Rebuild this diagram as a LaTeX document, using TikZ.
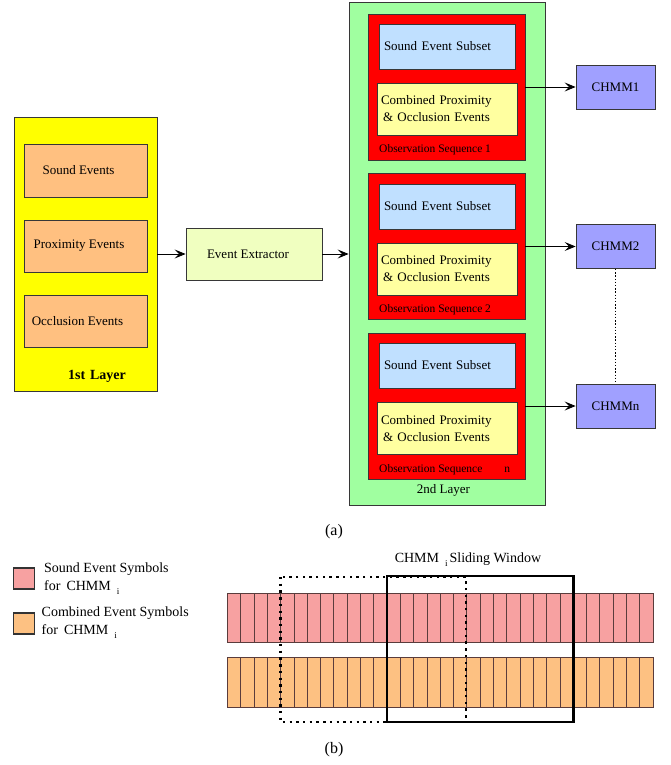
\documentclass[tikz,border=0pt]{standalone}
\usepackage{fontspec}
\setmainfont{Liberation Serif}
\usetikzlibrary{arrows.meta}
\definecolor{layeryellow}{RGB}{255,255,0}
\definecolor{peach}{RGB}{255,192,128}
\definecolor{eebg}{RGB}{240,255,192}
\definecolor{lgreen}{RGB}{160,255,160}
\definecolor{redbox}{RGB}{255,0,0}
\definecolor{lblue}{RGB}{192,224,255}
\definecolor{lyellow}{RGB}{255,255,160}
\definecolor{lav}{RGB}{160,160,255}
\definecolor{pinkbar}{RGB}{247,161,161}
\definecolor{orangebar}{RGB}{253,193,130}
\definecolor{edge}{RGB}{55,55,55}
\definecolor{celledge}{RGB}{90,60,60}
\tikzset{
  box/.style={draw=edge,line width=0.8pt,inner sep=0pt},
  arr/.style={draw=black,line width=0.8pt,-{Stealth[length=11pt,width=9pt,inset=4.5pt]}},
  obs/.style={anchor=west,inner sep=0pt,font=\fontsize{11.5}{13}\selectfont},
  bluebox/.style={box,fill=lblue,minimum width=136pt,minimum height=45pt,text width=126pt,inner xsep=5pt,align=left},
  ylwbox/.style={box,fill=lyellow,minimum width=136pt,minimum height=52pt,text width=132pt,inner xsep=4pt,align=left,font=\fontsize{13}{17}\selectfont},
  redbx/.style={box,fill=redbox,minimum width=157pt,minimum height=146pt},
  chmm/.style={box,fill=lav,minimum width=79pt,minimum height=44pt},
  legsq/.style={draw=black!80,line width=1.4pt,minimum width=21pt,minimum height=21pt,inner sep=0pt},
  legtxt/.style={anchor=west,align=left,inner sep=0pt,font=\fontsize{14}{18}\selectfont}
}
\newcommand{\subI}{\raisebox{-4pt}{\fontsize{9}{9}\selectfont i}}
\begin{document}
\begin{tikzpicture}[x=1pt,y=1pt,font=\fontsize{13}{15}\selectfont]
\useasboundingbox (0,0) rectangle (670,-765);

% ---------- 1st layer ----------
\node[box,fill=layeryellow,minimum width=143pt,minimum height=274pt] (L1) at (85.5,-254) {};
\node[box,fill=peach,minimum width=123pt,minimum height=53pt] (se) at (85.5,-170.5) {\hspace*{-14pt}Sound Events};
\node[box,fill=peach,minimum width=123pt,minimum height=52pt] (pe) at (85.5,-246) {\hspace*{-13pt}Proximity Events};
\node[box,fill=peach,minimum width=123pt,minimum height=52pt] (oe) at (85.5,-321) {\hspace*{-16pt}Occlusion Events};
\node[font=\fontsize{14}{16}\selectfont\bfseries,inner sep=0pt] (l1t) at (97,-376) {1st\,\,Layer};

% ---------- event extractor ----------
\node[box,fill=eebg,minimum width=136pt,minimum height=52pt] (ee) at (254,-254) {\hspace*{-12pt}Event Extractor};

% ---------- 2nd layer ----------
\node[box,fill=lgreen,minimum width=196pt,minimum height=503pt] (L2) at (447,-254) {};

\node[redbx] (r1) at (446.5,-87) {};
\node[bluebox] (b1) at (447,-46.5) {Sound Event Subset};
\node[ylwbox] (y1) at (447,-109) {Combined Proximity\\\hspace*{2pt}\& Occlusion Events};
\node[obs] (o1) at (379,-150) {Observation Sequence 1};

\node[redbx] (r2) at (446.5,-246.5) {};
\node[bluebox] (b2) at (447,-206.5) {Sound Event Subset};
\node[ylwbox] (y2) at (447,-269) {Combined Proximity\\\hspace*{2pt}\& Occlusion Events};
\node[obs] (o2) at (379,-310) {Observation Sequence 2};

\node[redbx] (r3) at (446.5,-406) {};
\node[bluebox] (b3) at (447,-365.5) {Sound Event Subset};
\node[ylwbox] (y3) at (447,-428.5) {Combined Proximity\\\hspace*{2pt}\& Occlusion Events};
\node[obs] (o3) at (379,-470) {Observation Sequence\hspace{22pt}n};

\node[inner sep=0pt] (l2t) at (443.5,-490) {2nd Layer};

% ---------- CHMMs ----------
\node[chmm] (c1) at (615.5,-87) {CHMM1};
\node[chmm] (c2) at (615.5,-246.5) {CHMM2};
\node[chmm] (cn) at (615.5,-406) {CHMMn};

% ---------- connectors ----------
\draw[arr] (L1.east) -- (ee.west);
\draw[arr] (ee.east) -- (L2.west);
\draw[arr] (r1.east) -- (c1.west);
\draw[arr] (r2.east) -- (c2.west);
\draw[arr] (r3.east) -- (cn.west);
\draw[line width=0.7pt,dash pattern=on 1.5pt off 1.7pt] (c2.south) -- (cn.north);

\node[font=\fontsize{16}{18}\selectfont,inner sep=0pt] (capa) at (334,-532) {(a)};

% ---------- part (b) ----------
\node[legsq,fill=pinkbar] (lq1) at (24,-578.5) {};
\node[legtxt] (lt1) at (44,-579) {Sound Event Symbols\\for\hspace{6pt}CHMM\hspace{6pt}\subI};
\node[legsq,fill=orangebar] (lq2) at (24,-623.5) {};
\node[legtxt] (lt2) at (41.5,-623) {Combined Event Symbols\\for\hspace{6pt}CHMM\hspace{6pt}\subI};

% bars
\draw[fill=pinkbar,draw=celledge,line width=0.6pt] (227.3,-593) rectangle (653,-642);
\foreach \i in {1,...,31} \draw[celledge,line width=0.6pt] ({227.3+\i*13.3},-593) -- ({227.3+\i*13.3},-642);
\draw[fill=orangebar,draw=celledge,line width=0.6pt] (227.3,-657) rectangle (653,-707);
\foreach \i in {1,...,31} \draw[celledge,line width=0.6pt] ({227.3+\i*13.3},-657) -- ({227.3+\i*13.3},-707);

% windows
\draw[line width=2.4pt,dash pattern=on 2.4pt off 4.3pt] (280.5,-577) rectangle (466,-722);
\draw[line width=2.6pt] (387,-576) rectangle (573.5,-722);

\node[font=\fontsize{14}{16}\selectfont,inner sep=0pt] (swt) at (468,-560) {CHMM\hspace{6pt}\subI\hspace{2pt}Sliding Window};

\node[font=\fontsize{16}{18}\selectfont,inner sep=0pt] (capb) at (334,-750) {(b)};
\end{tikzpicture}
\end{document}
